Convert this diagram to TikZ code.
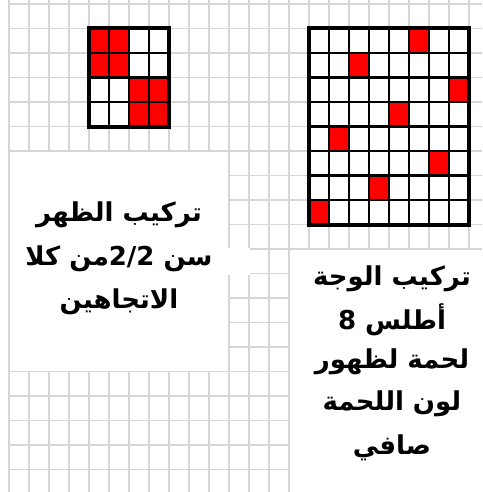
\documentclass[tikz,border=0pt]{standalone}
\usepackage{fontspec}
\TeXXeTstate=1
\newfontfamily\arabicfont[Script=Arabic]{DejaVu Sans}
\definecolor{gridgray}{RGB}{214,214,214}
\definecolor{cellred}{RGB}{255,0,0}
\tikzset{
  gridline/.style={draw=gridgray, line width=1.9pt},
  innerline/.style={draw=black, line width=2.4pt},
  outerline/.style={draw=black, line width=4pt},
  redcell/.style={fill=cellred},
  arabtxt/.style={font=\arabicfont\bfseries\fontsize{26}{30}\selectfont, inner sep=0pt, anchor=center}
}
\begin{document}
\begin{tikzpicture}[x=1pt,y=-1pt]
\useasboundingbox (0,0) rectangle (482,492);
\fill[white] (0,0) rectangle (482,492);
% background sheet grid
\foreach \k in {0,...,23} \draw[gridline] ({9+20*\k},0) -- ({9+20*\k},492);
\foreach \k in {0,...,19} \draw[gridline] (9,{4+24.5*\k}) -- (482,{4+24.5*\k});
% white merged cells
\fill[white] (10,152) rectangle (228,370.5);
\fill[white] (228,248) rectangle (250,274.6);
\fill[white] (290,250) rectangle (482,492);
% small 4x4 pattern (back)
\fill[white] (89,28.5) rectangle (169,126.5);
\foreach \c/\r in {0/0,1/0,0/1,1/1,2/2,3/2,2/3,3/3}
  \fill[redcell] ({89+20*\c},{28.5+24.5*\r}) rectangle ({109+20*\c},{53+24.5*\r});
\foreach \k in {1,2,3} {
  \draw[innerline] ({89+20*\k},28.5) -- ({89+20*\k},126.5);
  \draw[innerline] (89,{28.5+24.5*\k}) -- (169,{28.5+24.5*\k});
}
\draw[outerline] (89,28.5) rectangle (169,126.5);
% big 8x8 pattern (face)
\fill[white] (309,28.5) rectangle (469,224.5);
\foreach \c/\r in {5/0,2/1,7/2,4/3,1/4,6/5,3/6,0/7}
  \fill[redcell] ({309.5+20*\c},{28.5+24.5*\r}) rectangle ({327.5+20*\c},{53+24.5*\r});
\foreach \k in {1,...,7} {
  \draw[innerline] ({309+20*\k},28.5) -- ({309+20*\k},224.5);
  \draw[innerline] (309,{28.5+24.5*\k}) -- (469,{28.5+24.5*\k});
}
\draw[outerline] (309,28.5) rectangle (469,224.5);
% left text (back)
\node[arabtxt] (b1) at (119,215) {\beginR تركيب الظهر\endR};
\node[arabtxt] (b2) at (119,259) {\beginR سن \beginL 2/2\endL من كلا\endR};
\node[arabtxt] (b3) at (119,302) {\beginR الاتجاهين\endR};
% right text (face)
\node[arabtxt] (f1) at (392,279) {\beginR تركيب الوجة\endR};
\node[arabtxt] (f2) at (392,320) {\beginR أطلس \beginL 8\endL\endR};
\node[arabtxt] (f3) at (392,362) {\beginR لحمة لظهور\endR};
\node[arabtxt] (f4) at (392,404) {\beginR لون اللحمة\endR};
\node[arabtxt] (f5) at (392,448) {\beginR صافي\endR};
\end{tikzpicture}
\end{document}
